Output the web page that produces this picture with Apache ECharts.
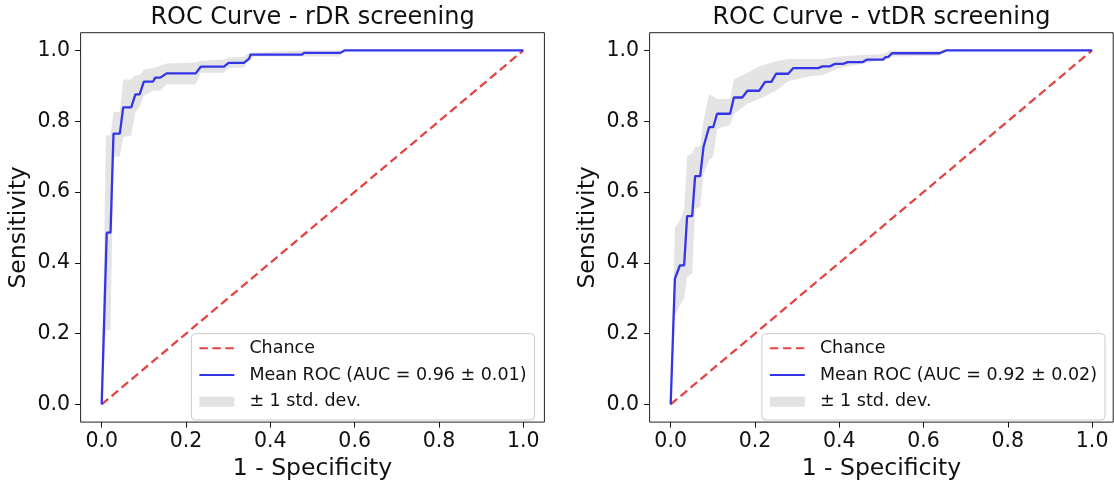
<!DOCTYPE html>
<html>
<head>
<meta charset="utf-8">
<script src="https://cdn.jsdelivr.net/npm/echarts@6/dist/echarts.min.js"></script>
<style>html,body{margin:0;padding:0;background:#fff}#c{width:1114px;height:486px}</style>
</head>
<body>
<div id="c"></div>
<script>
const tickValues = [0, 0.2, 0.4, 0.6, 0.8, 1.0];
const titles = ['ROC Curve - rDR screening', 'ROC Curve - vtDR screening'];
const xName = '1 - Specificity';
const yName = 'Sensitivity';
const chanceName = 'Chance';
const stdName = '\u00b1 1 std. dev.';
const meanNames = ['Mean ROC (AUC = 0.96 \u00b1 0.01)', 'Mean ROC (AUC = 0.92 \u00b1 0.02)'];
const chanceX = [0, 1];
const chanceY = [0, 1];

// rDR mean ROC
const meanFprL = [0, 0.012, 0.021, 0.028, 0.043, 0.051, 0.070, 0.080, 0.090, 0.100, 0.122, 0.127, 0.139, 0.154, 0.223, 0.235, 0.290, 0.301, 0.337, 0.350, 0.353, 0.475, 0.480, 0.566, 0.576, 1.0];
const meanTprL = [0, 0.485, 0.485, 0.765, 0.765, 0.839, 0.839, 0.876, 0.876, 0.912, 0.912, 0.923, 0.923, 0.935, 0.935, 0.954, 0.954, 0.965, 0.965, 0.977, 0.988, 0.988, 0.993, 0.993, 1.0, 1.0];
// rDR std band
const bandFprL = [0, 0.010, 0.021, 0.028, 0.043, 0.051, 0.070, 0.080, 0.090, 0.100, 0.122, 0.139, 0.154, 0.223, 0.235, 0.290, 0.301, 0.337, 0.350, 0.360, 0.475, 0.566, 0.576, 1.0];
const bandLoL  = [0, 0.21, 0.21, 0.70, 0.70, 0.755, 0.76, 0.825, 0.84, 0.872, 0.886, 0.886, 0.904, 0.904, 0.937, 0.937, 0.951, 0.951, 0.974, 0.983, 0.983, 0.983, 1.0, 1.0];
const bandUpL  = [0, 0.76, 0.76, 0.826, 0.826, 0.918, 0.918, 0.93, 0.93, 0.946, 0.95, 0.957, 0.963, 0.966, 0.971, 0.974, 0.979, 0.982, 0.994, 0.994, 1.0, 1.0, 1.0, 1.0];

// vtDR mean ROC
const meanFprR = [0, 0.010, 0.022, 0.032, 0.039, 0.051, 0.058, 0.070, 0.078, 0.091, 0.101, 0.110, 0.141, 0.150, 0.170, 0.182, 0.210, 0.224, 0.239, 0.250, 0.279, 0.291, 0.350, 0.360, 0.378, 0.390, 0.409, 0.420, 0.456, 0.466, 0.504, 0.510, 0.516, 0.525, 0.638, 0.654, 1.0];
const meanTprR = [0, 0.355, 0.393, 0.393, 0.532, 0.532, 0.645, 0.645, 0.728, 0.783, 0.783, 0.821, 0.821, 0.867, 0.867, 0.886, 0.886, 0.911, 0.911, 0.934, 0.934, 0.950, 0.950, 0.955, 0.955, 0.962, 0.962, 0.967, 0.967, 0.974, 0.974, 0.981, 0.981, 0.992, 0.992, 1.0, 1.0];
// vtDR std band
const bandFprR = [0, 0.010, 0.022, 0.032, 0.039, 0.051, 0.058, 0.070, 0.078, 0.091, 0.101, 0.110, 0.141, 0.150, 0.182, 0.210, 0.250, 0.279, 0.330, 0.360, 0.400, 0.456, 0.504, 0.520, 0.638, 0.654, 1.0];
const bandLoR  = [0, 0.25, 0.28, 0.30, 0.36, 0.37, 0.55, 0.56, 0.65, 0.69, 0.70, 0.778, 0.79, 0.82, 0.849, 0.863, 0.886, 0.913, 0.927, 0.930, 0.950, 0.962, 0.974, 0.983, 0.985, 1.0, 1.0];
const bandUpR  = [0, 0.50, 0.52, 0.55, 0.70, 0.71, 0.727, 0.73, 0.80, 0.876, 0.87, 0.863, 0.863, 0.918, 0.937, 0.955, 0.969, 0.976, 0.976, 0.976, 0.983, 0.987, 0.99, 1.0, 1.0, 1.0, 1.0];

const FONT = 'DejaVu Sans';
const TXT = '#111';
const RED = '#e34444';
const BLUE = '#3535e8';
const BAND = 'rgba(128,128,128,0.21)';

const zip = (a, b) => a.map((v, i) => [v, b[i]]);
const zip3 = (a, b, c) => a.map((v, i) => [v, b[i], c[i]]);

const grids = [
  {left: 80.6, top: 32.7, width: 463.8, height: 395},
  {left: 649.6, top: 32.7, width: 463.6, height: 395}
];

function mkAxis(isX, idx) {
  return {
    type: 'value', gridIndex: idx, min: -0.05, max: 1.05,
    position: isX ? 'bottom' : 'left',
    name: isX ? xName : yName,
    nameLocation: 'middle',
    nameGap: isX ? 31.5 : 50,
    nameTextStyle: {fontFamily: FONT, fontSize: 23.5, color: TXT},
    axisLine: {show: false, onZero: false},
    splitLine: {show: false},
    axisTick: {show: true, inside: false, length: 5.5, customValues: tickValues, lineStyle: {color: '#111', width: 1}},
    axisLabel: {show: true, customValues: tickValues, margin: isX ? 9 : 10.5, fontFamily: FONT, fontSize: 20.5, color: TXT,
      formatter: v => v.toFixed(1)}
  };
}

function bandSeries(idx, fpr, lo, up) {
  return {
    type: 'custom', name: stdName, xAxisIndex: idx, yAxisIndex: idx,
    data: zip3(fpr, lo, up),
    encode: {x: 0, y: [1, 2]},
    itemStyle: {color: BAND},
    clip: true,
    renderItem: function (params, api) {
      if (params.dataIndex !== 0) return null;
      const pts = [];
      for (let i = 0; i < fpr.length; i++) pts.push(api.coord([fpr[i], up[i]]));
      for (let i = fpr.length - 1; i >= 0; i--) pts.push(api.coord([fpr[i], lo[i]]));
      return {type: 'polygon', shape: {points: pts}, style: {fill: BAND, stroke: null}};
    }
  };
}

function lineSeries(idx, name, data, color, dashed) {
  return {
    type: 'line', name: name, xAxisIndex: idx, yAxisIndex: idx,
    data: data, symbol: 'none', showSymbol: false, animation: false,
    lineStyle: {color: color, width: 2.3, type: dashed ? [8.5, 4.5] : 'solid'},
    itemStyle: {color: color}
  };
}

const noSym = {color: 'rgba(0,0,0,0)', borderWidth: 0, borderColor: 'rgba(0,0,0,0)'};

function mkLegend(idx, rightPx) {
  return {
    orient: 'vertical', right: rightPx, bottom: 66,
    itemWidth: 35, itemHeight: 10, itemGap: 6.7,
    padding: [4.7, 8, 8.3, 7],
    backgroundColor: 'rgba(255,255,255,0.8)',
    borderColor: '#cccccc', borderWidth: 1, borderRadius: 4,
    selectedMode: false,
    textStyle: {fontFamily: FONT, fontSize: 17.5, color: TXT, lineHeight: 20, padding: [0, 0, 0, 10]},
    data: [
      {name: chanceName, itemStyle: noSym},
      {name: meanNames[idx], itemStyle: noSym},
      {name: stdName, icon: 'rect', itemStyle: {color: '#e2e2e2', borderWidth: 0}}
    ]
  };
}

const chart = echarts.init(document.getElementById('c'), null, {renderer: 'canvas'});
chart.setOption({
  animation: false,
  backgroundColor: '#fff',
  grid: grids.map(g => Object.assign({show: true, borderColor: '#222', borderWidth: 1, backgroundColor: 'transparent', containLabel: false}, g)),
  xAxis: [mkAxis(true, 0), mkAxis(true, 1)],
  yAxis: [mkAxis(false, 0), mkAxis(false, 1)],
  legend: [mkLegend(0, 579.5), mkLegend(1, 9)],
  graphic: [
    {type: 'text', x: grids[0].left + grids[0].width / 2, y: 5.5, style: {text: titles[0], fontFamily: FONT, fontSize: 24, fill: TXT, align: 'center', verticalAlign: 'top'}},
    {type: 'text', x: grids[1].left + grids[1].width / 2, y: 5.5, style: {text: titles[1], fontFamily: FONT, fontSize: 24, fill: TXT, align: 'center', verticalAlign: 'top'}}
  ],
  series: [
    lineSeries(0, chanceName, zip(chanceX, chanceY), RED, true),
    lineSeries(0, meanNames[0], zip(meanFprL, meanTprL), BLUE, false),
    bandSeries(0, bandFprL, bandLoL, bandUpL),
    lineSeries(1, chanceName, zip(chanceX, chanceY), RED, true),
    lineSeries(1, meanNames[1], zip(meanFprR, meanTprR), BLUE, false),
    bandSeries(1, bandFprR, bandLoR, bandUpR)
  ]
});
</script>
</body>
</html>
